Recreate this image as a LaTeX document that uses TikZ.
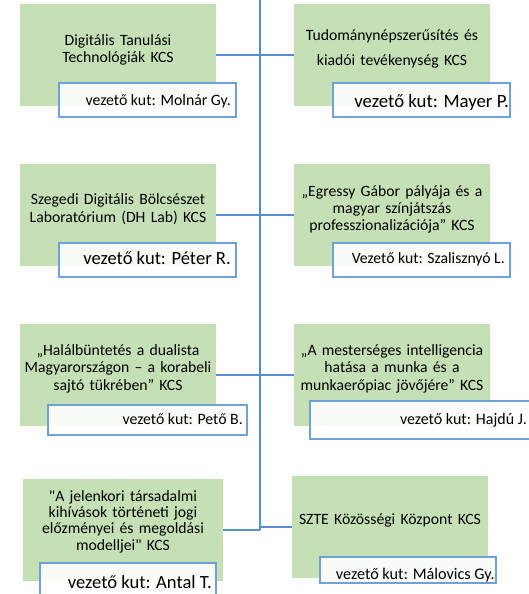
\documentclass[tikz,border=0pt]{standalone}
\usepackage{fontspec}
\newfontfamily\cf{Carlito}
\definecolor{boxgreen}{RGB}{197,224,180}
\definecolor{linkblue}{RGB}{84,141,212}
\definecolor{subblue}{RGB}{110,160,220}
\tikzset{
  kcs/.style={rectangle,fill=boxgreen,inner sep=0pt,minimum width=196pt,minimum height=102pt},
  lead/.style={rectangle,draw=subblue,line width=1.2pt,fill=white,fill opacity=0.9,inner sep=0pt},
  kcstext/.style={inner sep=0pt,text width=196pt,align=center,anchor=base,font=\cf},
  leadtext/.style={inner sep=0pt,anchor=base east,font=\cf},
  link/.style={draw=linkblue,line width=1.5pt}
}
\begin{document}
\begin{tikzpicture}[x=1pt,y=-1pt]
\clip (0,0) rectangle (529,594);
\fill[white] (0,0) rectangle (529,594);
% trunk
\coordinate (top) at (260,0);
\coordinate (bot) at (260,530);
% green boxes
\node[kcs] (b1) at (118,55) {};
\node[kcs] (b2) at (392,55) {};
\node[kcs] (b3) at (118,215) {};
\node[kcs] (b4) at (392,215) {};
\node[kcs] (b5) at (118,375) {};
\node[kcs] (b6) at (392,375) {};
\node[kcs,minimum width=200pt] (b7) at (123,530) {};
\node[kcs] (b8) at (390,527) {};
% connectors
\draw[link] (top) -- (bot);
\foreach \b in {b1,b3,b5,b7}{\draw[link] (\b.east) -- (\b.east -| top);}
\foreach \b in {b2,b4,b6,b8}{\draw[link] (\b.west -| top) -- (\b.west);}
% main texts
\node[kcstext,font={\cf\fontsize{15.7}{16.7}\selectfont}] (t1) at (118,45.7) {Digitális Tanulási\\Technológiák KCS};
\node[kcstext,font={\cf\fontsize{15.7}{25}\selectfont}] (t2) at (392,40.7) {Tudománynépszerűsítés és\\kiadói tevékenység KCS};
\node[kcstext,font={\cf\fontsize{15.7}{18.3}\selectfont}] (t3) at (118,204) {Szegedi Digitális Bölcsészet\\Laboratórium (DH Lab) KCS};
\node[kcstext,font={\cf\fontsize{15.7}{17}\selectfont}] (t4) at (392,196.7) {„Egressy Gábor pályája és a\\magyar színjátszás\\professzionalizációja” KCS};
\node[kcstext,font={\cf\fontsize{15.7}{17.6}\selectfont}] (t5) at (118,355) {„Halálbüntetés a dualista\\Magyarországon – a korabeli\\sajtó tükrében” KCS};
\node[kcstext,font={\cf\fontsize{15.7}{17.6}\selectfont}] (t6) at (392,355) {„A mesterséges intelligencia\\hatása a munka és a\\munkaerőpiac jövőjére” KCS};
\node[kcstext,text width=200pt,font={\cf\fontsize{15.7}{16.1}\selectfont}] (t7) at (123,501.7) {"A jelenkori társadalmi\\kihívások történeti jogi\\előzményei és megoldási\\modelljei" KCS};
\node[kcstext,font={\cf\fontsize{15.7}{17}\selectfont}] (t8) at (390,524) {SZTE Közösségi Központ KCS};
% leader boxes
\draw[lead] (59,83) rectangle (236,117);
\draw[lead] (333,83) rectangle (510,117);
\draw[lead] (59,243) rectangle (236,277);
\draw[lead] (333,243) rectangle (510,277);
\draw[lead] (48,405) rectangle (247,435);
\draw[lead] (310,401) rectangle (540,439);
\draw[lead] (40,563) rectangle (216,600);
\draw[lead] (320,557) rectangle (496,583);
% leader texts
\node[leadtext,font={\cf\fontsize{15.8}{18}\selectfont}] (l1) at (231,105) {vezető kut: Molnár Gy.};
\node[leadtext,font={\cf\fontsize{18.8}{21}\selectfont}] (l2) at (509,107) {vezető kut: Mayer P.};
\node[leadtext,font={\cf\fontsize{18.6}{21}\selectfont}] (l3) at (231,264) {vezető kut: Péter R.};
\node[leadtext,font={\cf\fontsize{15.7}{18}\selectfont}] (l4) at (505,263) {Vezető kut: Szalisznyó L.};
\node[leadtext,font={\cf\fontsize{15.8}{18}\selectfont}] (l5) at (243,424) {vezető kut: Pető B.};
\node[leadtext,font={\cf\fontsize{16}{18}\selectfont}] (l6) at (527,424) {vezető kut: Hajdú J.};
\node[leadtext,font={\cf\fontsize{18.6}{21}\selectfont}] (l7) at (212,588.5) {vezető kut: Antal T.};
\node[leadtext,font={\cf\fontsize{16.2}{18}\selectfont}] (l8) at (495,579) {vezető kut: Málovics Gy.};
\end{tikzpicture}
\end{document}
